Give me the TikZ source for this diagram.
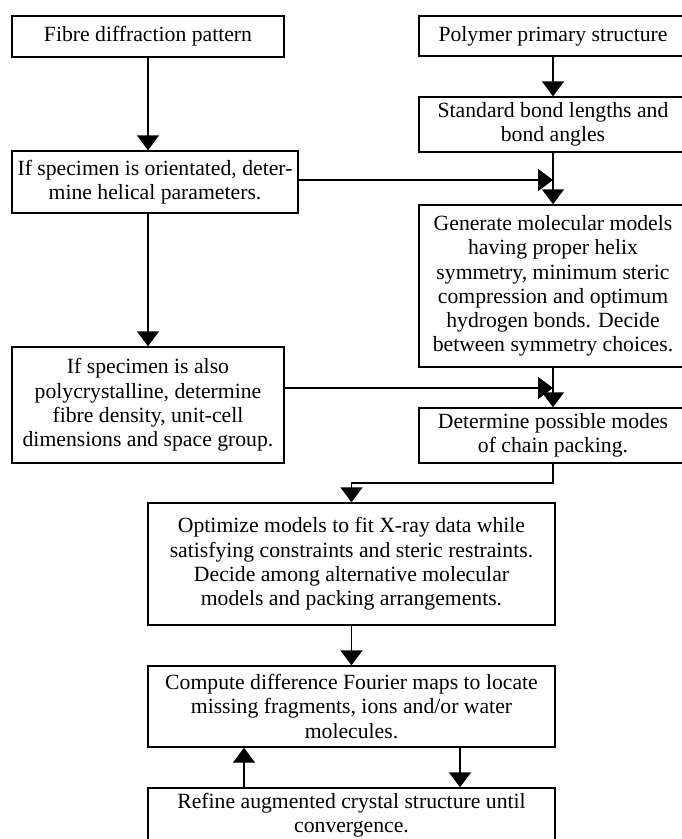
\documentclass[tikz,border=0pt]{standalone}
\usepackage{fontspec}
\setmainfont{Liberation Serif}
\usetikzlibrary{arrows.meta}
\begin{document}
\begin{tikzpicture}[x=1pt,y=-1pt,
  box/.style={draw, line width=1.4pt, rectangle, inner sep=0pt, align=center,
    font=\fontsize{21.7}{24.3}\selectfont},
  arr/.style={line width=1.4pt, -{Triangle[width=22pt,length=15pt]}},
  plain/.style={line width=1.4pt}]
\useasboundingbox (0,0) rectangle (681,839);

\node[box, minimum width=272pt, minimum height=41pt] (A) at (148,36.5) {Fibre diffraction pattern};
\node[box, minimum width=268pt, minimum height=40pt] (B) at (553,36) {Polymer primary structure};
\node[box, minimum width=268pt, minimum height=55pt] (C) at (553,124.5) {Standard bond lengths and\\bond angles};
\node[box, minimum width=286pt, minimum height=62pt] (D) at (155,182) {If specimen is orientated, deter-\\mine helical parameters.};
\node[box, minimum width=268pt, minimum height=162pt] (E) at (553,286) {Generate molecular models\\having proper helix\\symmetry, minimum steric\\compression and optimum\\hydrogen bonds. Decide\\between symmetry choices.};
\node[box, minimum width=272pt, minimum height=116pt] (F) at (148,405) {If specimen is also\\polycrystalline, determine\\fibre density, unit-cell\\dimensions and space group.};
\node[box, minimum width=268pt, minimum height=55pt] (G) at (553,435.5) {Determine possible modes\\of chain packing.};
\node[box, minimum width=407pt, minimum height=122pt] (H) at (351.5,564) {Optimize models to fit X-ray data while\\satisfying constraints and steric restraints.\\Decide among alternative molecular\\models and packing arrangements.};
\node[box, minimum width=407pt, minimum height=81pt] (I) at (351.5,706.5) {Compute difference Fourier maps to locate\\missing fragments, ions and/or water\\molecules.};
\node[box, minimum width=407pt, minimum height=54pt] (J) at (351.5,815) {Refine augmented crystal structure until\\convergence.};

\coordinate (j1) at (553,180);
\coordinate (j2) at (553,388);
\coordinate (bend) at (553,483);
\coordinate (dn) at (460,0);
\coordinate (up) at (244,0);

\draw[arr] (A.south) -- (A.south |- D.north);
\draw[arr] (A.south |- D.south) -- (F.north);
\draw[arr] (B.south) -- (C.north);
\draw[arr] (C.south) -- (E.north);
\draw[arr] (E.south) -- (G.north);
\draw[arr] (D.east |- j1) -- (j1);
\draw[arr] (F.east |- j2) -- (j2);
\draw[arr] (G.south) -- (bend) -| (H.north);
\draw[arr] (H.south) -- (I.north);
\draw[arr] (I.south -| dn) -- (J.north -| dn);
\draw[arr] (J.north -| up) -- (I.south -| up);
\end{tikzpicture}
\end{document}
